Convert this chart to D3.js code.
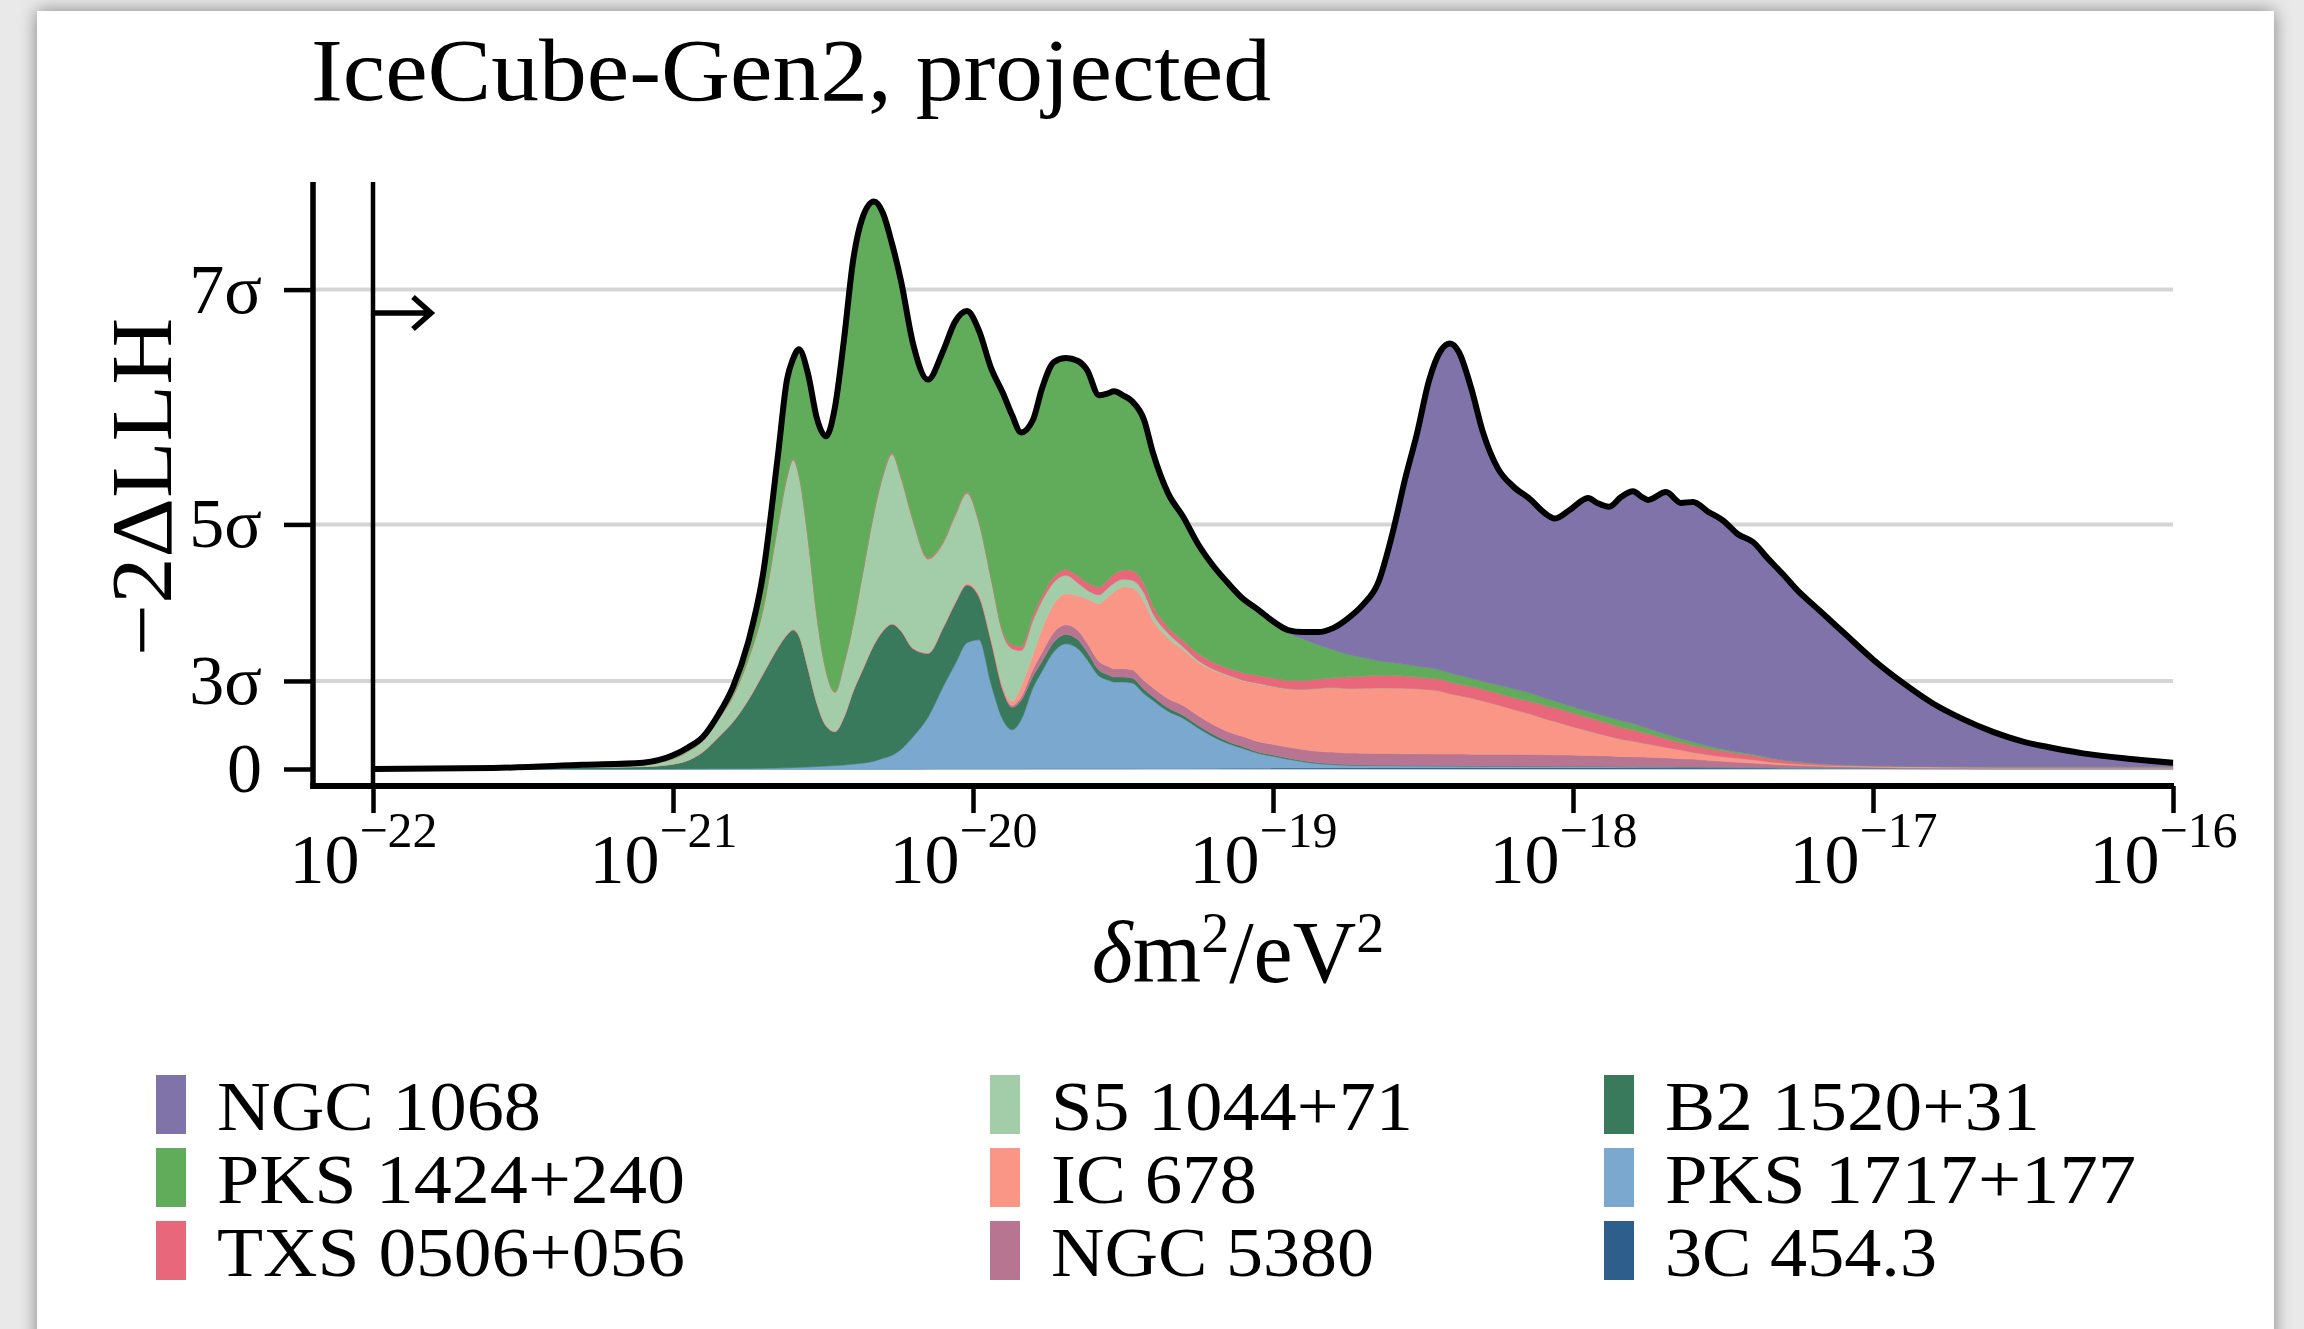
<!DOCTYPE html>
<html><head><meta charset="utf-8">
<script src="https://cdn.jsdelivr.net/npm/d3@7"></script>
<style>
html,body{margin:0;padding:0;background:#e9e9e9;overflow:hidden;}
svg{display:block;}
text{font-family:"Liberation Serif","Times New Roman",serif;fill:#000;}
</style></head><body>
<svg id="chart" width="2304" height="1329"></svg>
<script>
// ---------------- DATA ----------------
const logDm2 = [-22.0,-21.6,-21.3,-21.1,-21.0,-20.95,-20.9,-20.85,-20.8,-20.75,
-20.7,-20.65,-20.62,-20.6,-20.58,-20.55,-20.52,-20.49,-20.46,-20.43,
-20.4,-20.37,-20.33,-20.3,-20.27,-20.24,-20.2,-20.15,-20.1,-20.06,
-20.02,-19.98,-19.94,-19.9,-19.87,-19.84,-19.8,-19.77,-19.73,-19.69,
-19.65,-19.62,-19.58,-19.55,-19.53,-19.5,-19.47,-19.43,-19.4,-19.35,
-19.3,-19.25,-19.2,-19.15,-19.1,-19.05,-19.0,-18.95,-18.9,-18.85,
-18.8,-18.75,-18.7,-18.65,-18.6,-18.56,-18.52,-18.48,-18.44,-18.41,
-18.38,-18.34,-18.3,-18.25,-18.2,-18.14,-18.1,-18.06,-18.01,-17.95,
-17.92,-17.88,-17.84,-17.8,-17.77,-17.75,-17.69,-17.64,-17.6,-17.55,
-17.5,-17.45,-17.4,-17.35,-17.3,-17.25,-17.2,-17.15,-17.1,-17.0,
-16.9,-16.8,-16.7,-16.6,-16.5,-16.4,-16.3,-16.15,-16.0];

const c3c454 = [0,0,0,0,0,0,0,0,0,0,
0,0,0,0,0,0,0,0,0,0,
0,0,0,0,0,0,0,0.02,0.03,0.03,
0.03,0.03,0.03,0.03,0.03,0.03,0.04,0.04,0.04,0.04,
0.04,0.04,0.04,0.04,0.04,0.04,0.04,0.05,0.05,0.05,
0.05,0.06,0.06,0.07,0.08,0.08,0.09,0.1,0.1,0.11,
0.12,0.13,0.13,0.14,0.14,0.14,0.14,0.14,0.14,0.14,
0.14,0.14,0.14,0.14,0.14,0.14,0.14,0.14,0.14,0.14,
0.14,0.14,0.13,0.13,0.13,0.13,0.12,0.12,0.12,0.11,
0.11,0.1,0.1,0.09,0.08,0.08,0.07,0.06,0.06,0.05,
0.04,0.03,0.03,0.02,0.02,0.02,0.02,0.02,0.02];

const pks1717 = [0,0,0,0,0.01,0.02,0.03,0.04,0.05,0.06,
0.08,0.1,0.12,0.15,0.17,0.2,0.25,0.3,0.35,0.4,
0.5,0.6,0.8,1.1,1.4,2.0,3.3,5.28,8.37,10.67,
12.87,13.17,8.67,4.97,3.97,4.97,8.26,9.96,11.96,12.76,
12.26,11.16,9.46,9.06,8.86,8.86,8.76,7.65,6.95,5.85,
5.15,4.14,3.24,2.53,2.02,1.52,1.21,0.9,0.65,0.44,
0.33,0.25,0.22,0.2,0.19,0.18,0.17,0.17,0.16,0.16,
0.15,0.15,0.14,0.14,0.13,0.12,0.12,0.11,0.11,0.1,
0.1,0.1,0.09,0.09,0.08,0.08,0.08,0.07,0.07,0.06,
0.06,0.05,0.05,0.05,0.04,0.04,0.04,0.03,0.03,0.03,
0.02,0.02,0.02,0.02,0.02,0.02,0.02,0.02,0.02];

const b2_1520 = [0,0.04,0.17,0.25,0.49,0.86,1.72,3.16,4.75,6.94,
9.62,12.3,13.58,14.05,13.43,10.1,6.45,4.1,3.45,4.9,
7.4,9.4,11.9,13.0,13.4,12.1,9.0,6.5,6.0,6.2,
5.9,4.4,4.4,3.0,2.3,2.0,1.2,1.0,1.0,0.95,
0.9,0.8,0.6,0.55,0.5,0.5,0.5,0.45,0.4,0.35,
0.3,0.27,0.24,0.2,0.18,0.15,0.13,0.12,0.1,0.09,
0.08,0.07,0.06,0.05,0.05,0.04,0.04,0.04,0.04,0.04,
0.04,0.03,0.03,0.03,0.03,0.03,0.03,0.03,0.03,0.03,
0.03,0.02,0.02,0.02,0.02,0.02,0.02,0.02,0.02,0.02,
0.02,0.01,0.01,0.01,0.01,0.01,0.01,0.01,0.01,0,
0,0,0,0,0,0,0,0,0];

const ngc5380 = [0,0,0,0,0,0.01,0.02,0.03,0.03,0.03,
0.03,0.03,0.03,0.03,0.03,0.03,0.03,0.03,0.03,0.03,
0.03,0.03,0.03,0.03,0.03,0.03,0.03,0.03,0.04,0.05,
0.05,0.06,0.08,0.1,0.2,0.35,0.7,0.9,1.0,1.0,
0.95,0.9,0.9,0.85,0.85,0.85,0.85,0.9,0.9,0.95,
1.0,1.0,1.0,1.02,1.05,1.07,1.1,1.12,1.15,1.17,
1.2,1.18,1.2,1.2,1.2,1.2,1.2,1.2,1.2,1.2,
1.2,1.2,1.2,1.2,1.2,1.2,1.18,1.17,1.15,1.12,
1.1,1.08,1.05,1.02,1.0,0.98,0.92,0.85,0.8,0.7,
0.6,0.52,0.45,0.37,0.3,0.25,0.2,0.17,0.14,0.1,
0.07,0.05,0.04,0.03,0.03,0.03,0.03,0.03,0.03];

const ic678 = [0,0,0,0.01,0.02,0.03,0.04,0.05,0.06,0.06,
0.07,0.08,0.08,0.08,0.08,0.08,0.08,0.08,0.08,0.08,
0.08,0.08,0.08,0.08,0.08,0.08,0.08,0.08,0.1,0.12,
0.15,0.2,0.25,0.35,0.4,1.05,1.5,2.4,2.9,3.15,
3.55,4.5,5.9,7.1,7.85,8.35,8.4,8.05,6.9,6.2,
5.7,5.43,5.56,5.68,5.67,5.88,5.87,5.91,6.1,6.39,
6.57,6.57,6.63,6.69,6.69,6.69,6.65,6.55,6.41,6.16,
5.97,5.73,5.44,5.04,4.6,4.11,3.73,3.4,2.97,2.51,
2.28,2.01,1.76,1.59,1.42,1.34,1.06,0.89,0.69,0.56,
0.46,0.42,0.34,0.23,0.17,0.12,0.1,0.09,0.08,0.09,
0.1,0.11,0.11,0.12,0.12,0.12,0.12,0.12,0.12];

const s5_1044 = [0,0.04,0.17,0.24,0.5,0.85,1.05,1.72,2.5,4.0,
6.45,12.4,15.95,17.25,16.24,13.15,8.67,5.49,3.89,5.29,
6.69,9.47,13.35,15.74,17.24,15.54,12.94,9.54,8.51,8.78,
9.15,7.29,6.02,5.3,5.4,3.7,3.5,2.9,2.2,1.9,
1.3,0.9,0.9,0.9,0.9,0.8,0.75,0.9,0.7,0.5,
0.3,0.2,0.12,0.1,0.08,0.06,0.05,0.04,0.03,0.02,
0.02,0.02,0.01,0.01,0,0,0,0,0,0,
0,0,0,0,0,0,0,0,0,0,
0,0,0,0,0,0,0,0,0,0,
0,0,0,0,0,0,0,0,0,0,
0,0,0,0,0,0,0,0,0];

const txs0506 = [0,0,0.01,0.02,0.03,0.05,0.06,0.07,0.08,0.1,
0.12,0.13,0.15,0.16,0.15,0.14,0.12,0.1,0.1,0.1,
0.1,0.12,0.14,0.15,0.15,0.15,0.15,0.15,0.15,0.15,
0.15,0.15,0.15,0.25,0.4,0.45,0.5,0.5,0.55,0.6,
0.7,0.75,0.8,0.85,0.9,0.95,1.0,0.9,0.75,0.6,
0.6,0.7,0.7,0.7,0.75,0.8,0.85,0.85,0.9,0.95,
1.0,1.2,1.24,1.28,1.28,1.25,1.2,1.2,1.2,1.2,
1.2,1.2,1.2,1.2,1.2,1.3,1.35,1.4,1.4,1.4,
1.35,1.3,1.2,1.15,1.1,1.05,0.9,0.75,0.7,0.65,
0.58,0.5,0.45,0.35,0.27,0.22,0.17,0.13,0.1,0.07,
0.05,0.04,0.03,0.03,0.03,0.03,0.03,0.03,0.03];

const pks1424 = [0,0.02,0.08,0.13,0.35,0.38,0.38,0.43,0.93,1.71,
3.53,7.06,9.89,10.18,12.8,16.7,20.2,23.9,29.1,33.1,
37.1,36.5,31.7,26.7,21.4,20.0,18.0,18.2,19.5,19.7,
18.5,19.5,21.4,24.4,23.5,21.85,20.0,21.2,21.95,21.6,
22.0,21.75,19.6,19.05,18.7,17.85,17.3,16.8,15.65,13.7,
12.7,11.2,9.88,8.7,7.57,6.74,5.8,4.86,4.27,3.53,
2.88,2.28,1.9,1.5,1.3,1.2,1.1,1.05,0.95,0.9,
0.87,0.83,0.8,0.85,0.9,0.85,0.75,0.7,0.65,0.6,
0.62,0.65,0.68,0.65,0.6,0.55,0.45,0.4,0.35,0.25,
0.2,0.15,0.1,0.07,0.05,0.04,0.03,0.02,0.02,0.01,
0.01,0,0,0,0,0,0,0,0];

const ngc1068 = [0,0,0,0,0,0,0,0,0,0,
0,0,0,0,0,0,0,0,0,0,
0,0,0,0,0,0,0,0,0,0,
0,0,0,0,0,0,0,0,0,0,
0,0,0,0,0,0,0,0,0,0,
0,0,0,0,0,0,0,0.3,0.7,1.3,
2.2,3.7,5.41,7.93,13.45,18.9,23.8,29.35,32.7,33.7,
33.03,29.72,25.45,22.1,20.7,19.75,19.0,18.65,20.05,21.8,
21.58,21.5,22.87,23.75,23.45,23.35,24.75,24.1,24.55,23.95,
23.37,22.25,21.7,20.33,18.98,17.44,16.18,14.89,13.56,10.85,
8.51,6.45,4.87,3.58,2.58,1.93,1.38,0.83,0.42];

// stacking order, bottom -> top
const stackNames = ["3C 454.3","PKS 1717+177","B2 1520+31","NGC 5380","IC 678","S5 1044+71","TXS 0506+056","PKS 1424+240","NGC 1068"];
const stackValues = [c3c454,pks1717,b2_1520,ngc5380,ic678,s5_1044,txs0506,pks1424,ngc1068];
const stackColors = ["#2e5e8c","#7ba8cf","#3a7a5c","#b87592","#f99686","#a2cda8","#e8677a","#61ac5a","#8073a9"];

// legend order (column-major)
const legendNames = ["NGC 1068","PKS 1424+240","TXS 0506+056","S5 1044+71","IC 678","NGC 5380","B2 1520+31","PKS 1717+177","3C 454.3"];

const xTickExponents = [-22,-21,-20,-19,-18,-17,-16];
const yTickValues = [0,9,25,49];
const yTickLabels = ["0","3σ","5σ","7σ"];
const titleText = "IceCube-Gen2, projected";

// ---------------- LAYOUT ----------------
const W = 2304, H = 1329;
const svg = d3.select("#chart");
const defs = svg.append("defs");
const flt = defs.append("filter").attr("id","shadow").attr("x","-5%").attr("y","-5%").attr("width","110%").attr("height","110%");
flt.append("feDropShadow").attr("dx",0).attr("dy",0).attr("stdDeviation",9).attr("flood-color","#000").attr("flood-opacity",0.45);

svg.append("rect").attr("width",W).attr("height",H).attr("fill","#e9e9e9");
svg.append("rect").attr("x",37).attr("y",11).attr("width",2237).attr("height",1360).attr("fill","#fff").attr("filter","url(#shadow)");

const x = d3.scaleLog().domain([1e-22,1e-16]).range([373,2173]);
const y = d3.scaleLinear().domain([0,49]).range([769,289.6]);
const spineLeft = 313, spineBottom = 786, yTop = y(60);

// grid lines
svg.append("g").selectAll("line").data(yTickValues.filter(v=>v>0)).join("line")
  .attr("x1",spineLeft).attr("x2",x(1e-16)).attr("y1",d=>y(d)).attr("y2",d=>y(d))
  .attr("stroke","#d5d5d5").attr("stroke-width",4);

// stacked areas
const rows = logDm2.map((L,i)=>{
  const r = {dm2: Math.pow(10,L)};
  stackNames.forEach((n,k)=>{ r[n] = stackValues[k][i]; });
  return r;
});
const stacked = d3.stack().keys(stackNames)(rows);
const area = d3.area().x(d=>x(d.data.dm2)).y0(d=>y(d[0])).y1(d=>y(d[1])).curve(d3.curveMonotoneX);
svg.append("g").selectAll("path").data(stacked).join("path")
  .attr("d",area).attr("fill",(d,i)=>stackColors[i]).attr("stroke",(d,i)=>stackColors[i]).attr("stroke-width",0.6);

// total outline
const totalLine = d3.line().x(d=>x(d.data.dm2)).y(d=>y(d[1])).curve(d3.curveMonotoneX);
svg.append("path").attr("d",totalLine(stacked[stacked.length-1])).attr("fill","none")
  .attr("stroke","#000").attr("stroke-width",6).attr("stroke-linejoin","round");

// x axis
const gx = svg.append("g").attr("transform",`translate(0,${spineBottom})`)
  .call(d3.axisBottom(x).tickValues(xTickExponents.map(e=>Math.pow(10,e))).tickSize(27).tickSizeOuter(0).tickFormat(()=>""));
gx.select(".domain").remove();
gx.selectAll(".tick line").attr("stroke","#000").attr("stroke-width",4.5);
gx.selectAll(".tick text").remove();
gx.selectAll(".tick").each(function(d,i){
  const t = d3.select(this).append("text").attr("x",-10).attr("y",97)
    .attr("text-anchor","middle").attr("font-size",70).attr("fill","#000");
  t.append("tspan").text("10");
  t.append("tspan").attr("dy",-36).attr("font-size",50).text("\u2212"+(-xTickExponents[i]));
});

// y axis
const gy = svg.append("g").attr("transform",`translate(${spineLeft},0)`)
  .attr("font-family","Liberation Serif, serif")
  .call(d3.axisLeft(y).tickValues(yTickValues).tickSize(29).tickPadding(22).tickFormat((d,i)=>yTickLabels[i]));
gy.select(".domain").remove();
gy.selectAll(".tick line").attr("stroke","#000").attr("stroke-width",4.5);
gy.selectAll(".tick text").attr("font-size",70).attr("font-family","Liberation Serif, serif").attr("fill","#000");

// spines
svg.append("line").attr("x1",spineLeft).attr("x2",spineLeft).attr("y1",yTop).attr("y2",spineBottom+3)
  .attr("stroke","#000").attr("stroke-width",5.5);
svg.append("line").attr("x1",spineLeft-2.7).attr("x2",x(1e-16)+1).attr("y1",spineBottom).attr("y2",spineBottom)
  .attr("stroke","#000").attr("stroke-width",6);

// vertical marker at 1e-22 with arrow
const x22 = x(1e-22);
svg.append("line").attr("x1",x22).attr("x2",x22).attr("y1",yTop).attr("y2",spineBottom)
  .attr("stroke","#000").attr("stroke-width",4.5);
svg.append("path").attr("d",`M${x22},313 H${x22+59} M${x22+40},297 L${x22+58},313 L${x22+40},329`)
  .attr("fill","none").attr("stroke","#000").attr("stroke-width",5.5).attr("stroke-linejoin","miter");

// title
svg.append("text").attr("x",311).attr("y",100).attr("font-size",89)
  .attr("textLength",960).attr("lengthAdjust","spacingAndGlyphs").text(titleText);

// y label
svg.append("text").attr("transform","translate(171,487) rotate(-90)").attr("text-anchor","middle")
  .attr("font-size",86).attr("textLength",338).attr("lengthAdjust","spacingAndGlyphs").text("\u22122\u0394LLH");

// x label
const xl = svg.append("text").attr("x",1238).attr("y",982).attr("text-anchor","middle").attr("font-size",88);
xl.append("tspan").attr("font-style","italic").text("δ");
xl.append("tspan").text("m");
xl.append("tspan").attr("dy",-30).attr("font-size",56).text("2");
xl.append("tspan").attr("dy",30).text("/eV");
xl.append("tspan").attr("dy",-30).attr("font-size",56).text("2");

// legend
const legendColX = [156, 990, 1604];
const legendRowY = [1130, 1203, 1276];
const legendTextW = {"NGC 1068":324,"PKS 1424+240":468,"TXS 0506+056":468,"S5 1044+71":362,"IC 678":206,"NGC 5380":323,"B2 1520+31":375,"PKS 1717+177":471,"3C 454.3":272};
const lg = svg.append("g");
legendNames.forEach((n,i)=>{
  const col = Math.floor(i/3), row = i%3;
  const k = stackNames.indexOf(n);
  lg.append("rect").attr("x",legendColX[col]).attr("y",legendRowY[row]-55).attr("width",30).attr("height",59)
    .attr("fill",stackColors[k]);
  lg.append("text").attr("x",legendColX[col]+61).attr("y",legendRowY[row]).attr("font-size",70)
    .attr("textLength",legendTextW[n]).attr("lengthAdjust","spacingAndGlyphs").text(n);
});
</script>
</body></html>
